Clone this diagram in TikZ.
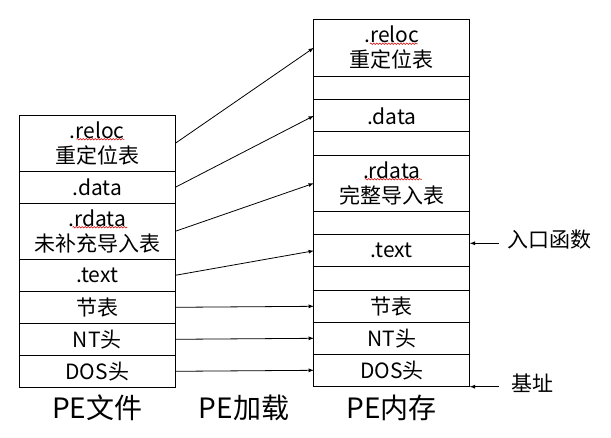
\documentclass[tikz,border=0pt]{standalone}
\usepackage{fontspec}
\setmainfont{Noto Sans CJK SC}
\usepackage{tikz}
\usetikzlibrary{positioning,calc}
\usetikzlibrary{arrows,decorations.pathmorphing}
\newcommand{\rowfont}{\fontsize{21}{25}\selectfont}
\newcommand{\capfont}{\fontsize{28}{32}\selectfont}
\tikzstyle{block} = [rectangle,draw=black,line width=1pt,align=center,inner sep=0pt,outer sep=0pt,minimum width=156pt,minimum height=32pt,font=\rowfont]
\tikzstyle{tallblock} = [block,minimum height=56pt]
\tikzstyle{gapblock} = [block,minimum height=23.5pt]
\tikzstyle{line} = [-latex,line width=0.8pt]
\tikzstyle{squig} = [red!85!black,line width=0.5pt,decorate,decoration={snake,amplitude=0.8pt,segment length=3pt}]

\begin{document}
\begin{tikzpicture}[x=1pt,y=-1pt]
        \useasboundingbox (0,0) rectangle (611,438);
        % PE file
        \node[tallblock,anchor=north] (lrel) at (97.3,115.3) {.reloc\\重定位表};
        \node[block,below=0pt of lrel] (ldat) {.data};
        \node[tallblock,below=0pt of ldat] (lrd) {.rdata\\未补充导入表};
        \node[block,below=0pt of lrd] (ltxt) {.text};
        \node[block,below=0pt of ltxt] (lsec) {节表};
        \node[block,below=0pt of lsec] (lnt) {NT头};
        \node[block,below=0pt of lnt] (ldos) {DOS头};
        % PE in memory
        \node[tallblock,anchor=north,minimum height=57pt] (rrel) at (391.8,19.3) {.reloc\\重定位表};
        \node[gapblock,below=0pt of rrel] (rg1) {};
        \node[block,below=0pt of rg1] (rdat) {.data};
        \node[gapblock,below=0pt of rdat] (rg2) {};
        \node[tallblock,below=0pt of rg2] (rrd) {.rdata\\完整导入表};
        \node[gapblock,below=0pt of rrd] (rg3) {};
        \node[block,below=0pt of rg3] (rtxt) {.text};
        \node[gapblock,below=0pt of rtxt] (rg4) {};
        \node[block,below=0pt of rg4] (rsec) {节表};
        \node[block,below=0pt of rsec] (rnt) {NT头};
        \node[block,below=0pt of rnt] (rdos) {DOS头};
        % spell-check marks
        \draw[squig] ($(lrel.center)+(-21,-4)$) -- ++(48,0);
        \draw[squig] ($(rrel.center)+(-22,-4)$) -- ++(48,0);
        \draw[squig] ($(lrd.center)+(-25,-4)$) -- ++(55,0);
        \draw[squig] ($(rrd.center)+(-27,-4)$) -- ++(57,0);
        % loading
        \path[line] (lrel.east) edge (rrel.west)
        (ldat.east) edge (rdat.west)
        (lrd.east) edge (rrd.west)
        (ltxt.east) edge (rtxt.west)
        (lsec.east) edge (rsec.west)
        (lnt.east) edge (rnt.west)
        (ldos.east) edge (rdos.west);
        % captions
        \node[font=\capfont] (cf) at (97.3,407.5) {PE文件};
        \node[font=\capfont] (cl) at (244,407.5) {PE加载};
        \node[font=\capfont] (cm) at (391.8,407.5) {PE内存};
        % entry and base
        \coordinate (eo) at (499,243.3);
        \coordinate (bo) at (499,386.7);
        \node[font=\rowfont,anchor=west,inner sep=0pt] (entry) at (507,240) {入口函数};
        \node[font=\rowfont,anchor=west,inner sep=0pt] (base) at (511,383.5) {基址};
        \draw[line] (eo) -- (eo -| rtxt.east);
        \draw[line] (bo) -- (bo -| rdos.east);
\end{tikzpicture}
\end{document}
